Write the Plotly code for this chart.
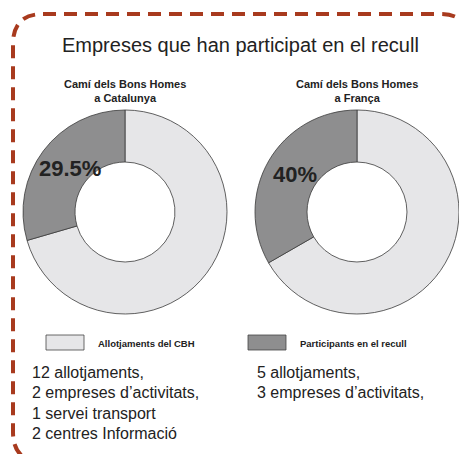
import plotly.graph_objects as go

W, H = 459, 454

# === Data ===
categories = ["Allotjaments del CBH", "Participants en el recull"]
regions = ["Camí dels Bons Homes<br>a Catalunya", "Camí dels Bons Homes<br>a França"]
participant_share = [29.5, 33.3]      # slice as drawn in the picture
share_labels = ["29.5%", "40%"]
lines_left = ["12 allotjaments,", "2 empreses d’activitats,", "1 servei transport", "2 centres Informació"]
lines_right = ["5 allotjaments,", "3 empreses d’activitats,"]

DARK = "#8e8e8f"
LIGHT = "#e6e6e8"
BORDER = "#a83a1e"
NARROW = "Liberation Sans Narrow, Arial Narrow, sans-serif"
SANS = "Liberation Sans, Arial, sans-serif"


def px(x):
    return x / W


def py(y):
    return 1 - y / H


def note(x, y, text, size, family=SANS, xanchor="center", color="#222"):
    fig.add_annotation(x=px(x), y=py(y), xref="paper", yref="paper",
                       xanchor=xanchor, yanchor="middle", text=text, showarrow=False,
                       font=dict(family=family, size=size, color=color))


fig = go.Figure()

# donut centres / radius in pixels
centres = [(125, 212), (357, 212)]
R = 102
for (cx, cy), share in zip(centres, participant_share):
    fig.add_trace(go.Pie(
        labels=categories,
        values=[100 - share, share],
        hole=0.49,
        sort=False,
        direction="clockwise",
        rotation=0,
        textinfo="none",
        hoverinfo="label+percent",
        marker=dict(colors=[LIGHT, DARK], line=dict(color="#3a3a3a", width=0.8)),
        domain=dict(x=[px(cx - R), px(cx + R)], y=[py(cy + R), py(cy - R)]),
        showlegend=False,
    ))

# === Dashed rounded border (runs past the right and bottom edges) ===
x0, y0, x1, y1, r = 13, 14, 470, 462, 30
path = (
    f"M {px(x0 + r)},{py(y0)} L {px(x1 - r)},{py(y0)} "
    f"Q {px(x1)},{py(y0)} {px(x1)},{py(y0 + r)} "
    f"L {px(x1)},{py(y1 - r)} Q {px(x1)},{py(y1)} {px(x1 - r)},{py(y1)} "
    f"L {px(x0 + r)},{py(y1)} Q {px(x0)},{py(y1)} {px(x0)},{py(y1 - r)} "
    f"L {px(x0)},{py(y0 + r)} Q {px(x0)},{py(y0)} {px(x0 + r)},{py(y0)} Z"
)
fig.add_shape(type="path", path=path, xref="paper", yref="paper",
              line=dict(color=BORDER, width=4, dash="13px,8px"))

# === Titles ===
note(240, 45, "Empreses que han participat en el recull", 20, family=NARROW)
for (cx, cy), reg in zip(centres, regions):
    note(cx, 91, f"<b>{reg}</b>", 11)

# percentage labels
pct_pos = [(70, 168), (295, 174)]
for (lx, ly), lab in zip(pct_pos, share_labels):
    note(lx, ly, f"<b>{lab}</b>", 22, family=NARROW)

# === Legend ===
legend_items = [(46, LIGHT, categories[0]), (248, DARK, categories[1])]
for bx, col, name in legend_items:
    fig.add_shape(type="rect", xref="paper", yref="paper",
                  x0=px(bx), x1=px(bx + 38), y0=py(350), y1=py(335),
                  fillcolor=col, line=dict(color="#444", width=0.8))
    note(bx + 50, 343, f"<b>{name}</b>", 9.5, xanchor="left")

# === Bottom text ===
for lx, lines in [(30, lines_left), (255, lines_right)]:
    for i, t in enumerate(lines):
        note(lx, 372 + i * 20.5, t, 16, xanchor="left")

fig.update_layout(
    width=W, height=H,
    margin=dict(t=0, b=0, l=0, r=0),
    paper_bgcolor="white",
    plot_bgcolor="white",
)

fig.write_html("out.html", config={"displayModeBar": False},
               post_script="document.body.style.margin='0';")
